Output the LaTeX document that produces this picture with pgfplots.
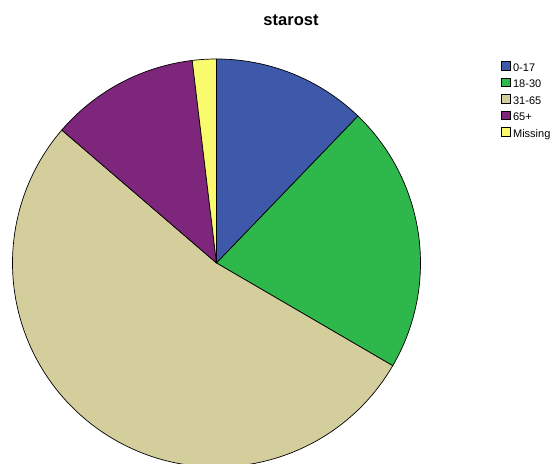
\documentclass[border=0pt]{standalone}
\usepackage{pgfplots}
\usepackage{pgfplotstable}
\pgfplotsset{compat=1.18}
\usepackage{fontspec}
\setmainfont{Liberation Sans}
\definecolor{c1}{RGB}{62,88,170}
\definecolor{c2}{RGB}{46,184,76}
\definecolor{c3}{RGB}{211,206,156}
\definecolor{c4}{RGB}{126,38,124}
\definecolor{c5}{RGB}{250,250,110}
\pgfplotstableread{
label value color
0-17 12.2 c1
18-30 21.2 c2
31-65 52.9 c3
65+ 11.8 c4
Missing 1.9 c5
}\agetable
\def\R{204pt}
\begin{document}
\begin{tikzpicture}
\useasboundingbox (-216.5pt,-200pt) rectangle (336.5pt,263pt);
\clip (-216.5pt,-200pt) rectangle (336.5pt,263pt);
\begin{axis}[
  at={(0,0)}, anchor=origin,
  x=\R, y=\R,
  xmin=-1.06, xmax=1.65, ymin=-0.98, ymax=1.29,
  hide axis, clip=false,
  legend style={at={(axis cs:1.3946,0.99)}, anchor=north west, draw=none, fill=none,
    font=\fontsize{11}{12}\selectfont, inner sep=0pt, row sep=4.1pt, column sep=3pt,
    nodes={inner sep=0pt, text height=7.5pt, text depth=2.5pt}},
  legend cell align=left,
  legend image code/.code={\filldraw[#1, draw=black, line width=0.4pt] (0pt,-1.3pt) rectangle (8.5pt,7.2pt);},
]
\addlegendimage{fill=c1}\addlegendentry{0-17}
\addlegendimage{fill=c2}\addlegendentry{18-30}
\addlegendimage{fill=c3}\addlegendentry{31-65}
\addlegendimage{fill=c4}\addlegendentry{65+}
\addlegendimage{fill=c5}\addlegendentry{Missing}
\gdef\cum{0}
\pgfplotsforeachungrouped \i in {0,...,4}{%
  \pgfplotstablegetelem{\i}{value}\of\agetable \let\v\pgfplotsretval
  \pgfplotstablegetelem{\i}{color}\of\agetable \let\c\pgfplotsretval
  \pgfmathsetmacro\sa{90-3.6*\cum}%
  \pgfmathsetmacro\sb{90-3.6*(\cum+\v)}%
  \edef\tmp{\noexpand\filldraw[fill=\c, draw=black, line width=0.7pt, line join=round] (axis cs:0,0) -- (axis cs:{cos(\sa)},{sin(\sa)}) arc[start angle=\sa, end angle=\sb, radius=\R] -- cycle;}%
  \tmp
  \pgfmathsetmacro\cum{\cum+\v}%
  \xdef\cum{\cum}%
}
\end{axis}
\node[font=\bfseries\fontsize{16.5}{17}\selectfont, anchor=base] at (74.5pt,237pt) {starost};
\end{tikzpicture}
\end{document}
